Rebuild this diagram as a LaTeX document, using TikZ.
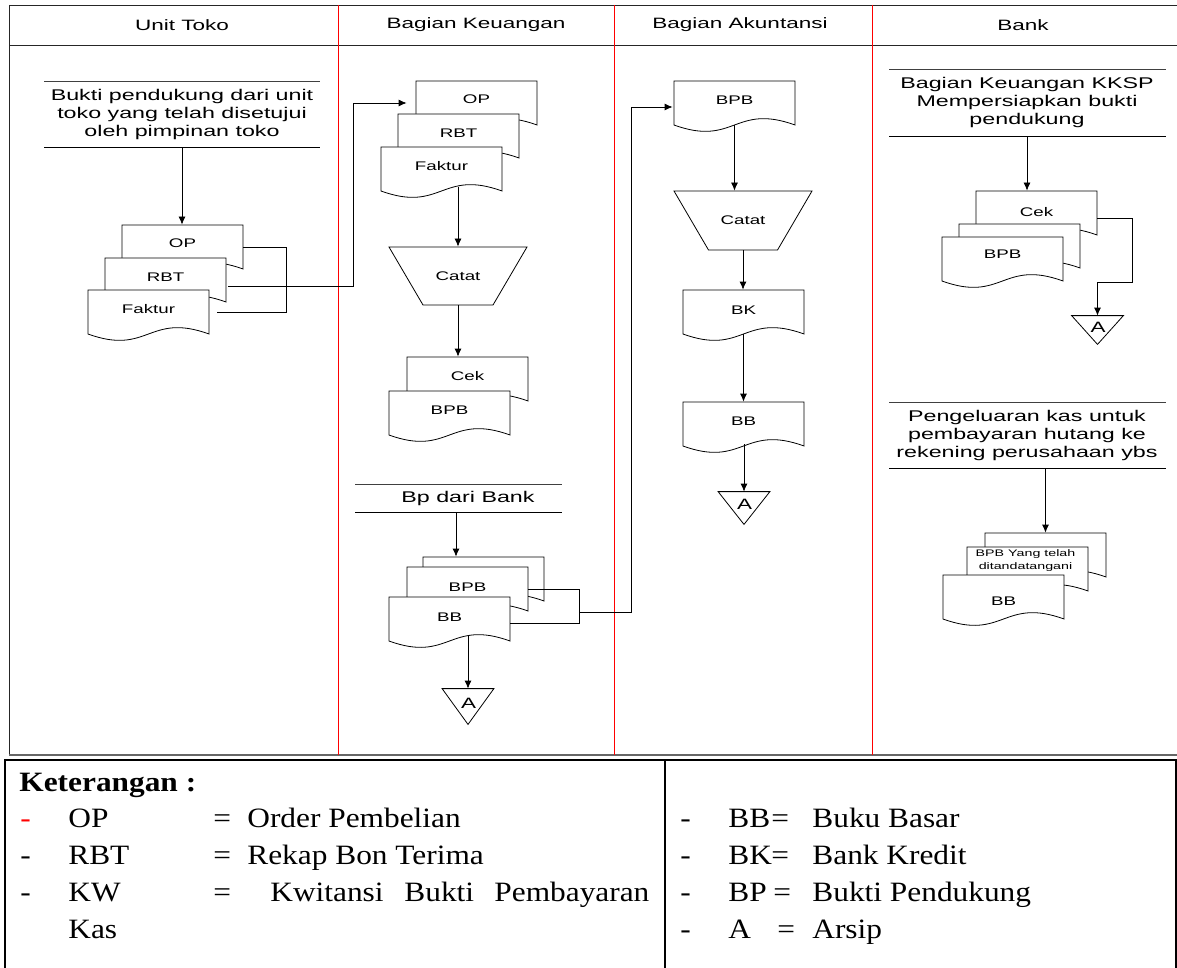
\documentclass[tikz,border=0pt]{standalone}
\usepackage{fontspec}
\usetikzlibrary{arrows.meta,calc}
\newfontfamily\afam[FakeStretch=1.5]{Liberation Sans}
\newfontfamily\tfam[FakeStretch=1.12]{Liberation Serif}
\newcommand\fLab{\afam\fontsize{12.5}{14}\selectfont}
\newcommand\fHd{\afam\fontsize{15}{17}\selectfont}
\newcommand\fBl{\afam\fontsize{15.5}{18}\selectfont}
\newcommand\fSm{\afam\fontsize{9.5}{13}\selectfont}
\newcommand\fA{\afam\fontsize{15}{16}\selectfont}
\newcommand\fLg{\tfam\fontsize{28}{30}\selectfont}
% document shape: name, x, y (top-left), label, text offset below top
\newcommand\docat[5]{%
  \draw[docline] (#2,#3) -- (#2+121,#3) -- (#2+121,#3+44)
    .. controls (#2+60.5,#3+22) and (#2+60.5,#3+66) .. (#2,#3+44) -- cycle;
  \node[docnode] (#1) at (#2+60.5,#3+22) {};
  \node[doctext] (#1t) at (#2+60.5,#3+#5) {#4};
}
% archive triangle: name, cx, ytop, h
\newcommand\arsip[4]{%
  \node[inner sep=0pt, minimum width=51pt, minimum height=#4pt] (#1) at (#2,#3+#4/2) {};
  \draw (#1.north west) -- (#1.north east) -- (#1.south) -- cycle;
  \node[inner sep=0pt, font=\fA] (#1t) at (#2+0.5,#3+0.4*#4) {A};
}
% manual operation trapezoid: name, cx, ytop, topw, botw, h, label
\newcommand\trap[7]{%
  \draw (#2-#4/2,#3) -- (#2+#4/2,#3) -- (#2+#5/2,#3+#6) -- (#2-#5/2,#3+#6) -- cycle;
  \node[inner sep=0pt, minimum width=#4pt, minimum height=#6pt, font=\fLab] (#1) at (#2,#3+#6/2) {#7};
}
% text block with rules: name, x1, x2, ytop, ybot, text cx, text
\newcommand\blk[7]{%
  \draw[draw=black!75] (#2,#4) -- (#3,#4);
  \draw (#2,#5) -- (#3,#5);
  \node[inner sep=0pt, minimum height=#5pt-#4pt, align=center, font=\fBl] (#1) at (#6,#4/2+#5/2) {#7};
}
\begin{document}
\begin{tikzpicture}[x=1pt,y=-1pt, line width=0.8pt,
  docline/.style={draw=black, fill=white, line width=0.8pt},
  docnode/.style={inner sep=0pt, minimum width=121pt, minimum height=44pt},
  doctext/.style={inner sep=0pt, font=\fLab, align=center},
  arr/.style={-{Latex[length=8pt,width=7pt]}, line width=0.8pt},
  conn/.style={line width=0.8pt},
  lg/.style={anchor=base west, inner sep=0pt, font=\fLg},
  hd/.style={inner sep=0pt, font=\fHd}]
\useasboundingbox (0,0) rectangle (1177,968);
\fill[white] (0,0) rectangle (1177,968);

% ---------- frame ----------
\draw[black!85] (9,5) -- (1177,5);
\draw[black!85] (9,45) -- (1177,45);
\draw[black!85] (9,5) -- (9,755);
\draw[black!60, line width=1.5pt] (9,755) -- (1177,755);
\draw[red, line width=1pt] (338,5) -- (338,755);
\draw[red, line width=1pt] (614,5) -- (614,755);
\draw[red, line width=1pt] (872,5) -- (872,755);

\node[hd] (hd1) at (182,25) {Unit Toko};
\node[hd] (hd2) at (476,25) {Bagian Keuangan};
\node[hd] (hd3) at (740,25) {Bagian Akuntansi};
\node[hd] (hd4) at (1023,25) {Bank};

% ---------- Unit Toko ----------
\blk{utblk}{44}{320}{81}{147}{182}{Bukti pendukung dari unit\\toko yang telah disetujui\\oleh pimpinan toko}
\docat{utop}{122}{225}{OP}{18}
\docat{utrbt}{105}{258}{RBT}{19}
\docat{utfak}{88}{290}{Faktur}{19}
\draw[arr] (utblk.south) -- (utblk.south |- utop.north);
\draw[conn] (utop.east) -- ++(43,0) |- ($(utfak.east)+(8,0)$);

% ---------- Bagian Keuangan ----------
\docat{kop}{416}{81}{OP}{18}
\docat{krbt}{398}{114}{RBT}{19}
\docat{kfak}{381}{147}{Faktur}{19}
\trap{kcatat}{458}{247}{138}{70}{58}{Catat}
\docat{kcek}{407}{357}{Cek}{19}
\docat{kbpb}{389}{391}{BPB}{19}
\blk{kbp}{355}{562}{484}{512}{468}{Bp dari Bank}
\docat{kback}{423}{557}{}{19}
\docat{kbpbb}{407}{567}{BPB}{20}
\docat{kbb}{389}{597}{BB}{20}
\arsip{ka}{468}{689}{35}

\draw[arr] ($(utrbt.east)+(2,6)$) -| ($(kop.west)+(-62,0)$) -- ($(kop.west)+(-9,0)$);
\draw[arr] ($(kcatat.north |- kfak.south)+(0,-4)$) -- (kcatat.north);
\draw[arr] (kcatat.south) -- (kcatat.south |- kcek.north);
\draw[arr] (kbp.south -| 456,0) -- (456,0 |- kback.north);
\draw[conn] (kbpbb.east) -- ++(51,0) |- ($(kbb.east)+(0,4)$);
\draw[arr] ($(ka.north |- kbb.south)+(0,-5)$) -- (ka.north);

% ---------- Bagian Akuntansi ----------
\docat{abpb}{674}{81}{BPB}{19}
\trap{acatat}{743}{191}{138}{69}{59}{Catat}
\docat{abk}{683}{290}{BK}{20}
\docat{abb}{683}{402}{BB}{19}
\arsip{aa}{744}{492}{32}
\draw[arr] ($(kbpbb.east)+(51,23)$) -| ($(abpb.west)+(-42,4)$) -- ($(abpb.west)+(-1,4)$);
\draw[arr] (abpb.south) -- (abpb.south |- acatat.north);
\draw[arr] (acatat.south) -- (acatat.south |- abk.north);
\draw[arr] (abk.south) -- (abk.south |- abb.north);
\draw[arr] ($(aa.north |- abb.south)+(0,-2)$) -- (aa.north);

% ---------- Bank ----------
\blk{bblka}{889}{1166}{69}{136}{1027}{Bagian Keuangan KKSP\\Mempersiapkan bukti\\pendukung}
\docat{bcek}{976}{191}{Cek}{21}
\docat{bmid}{959}{224}{}{19}
\docat{bbpb}{942}{237}{BPB}{17}
\arsip{ba}{1097.5}{316}{28}
\draw[arr] (bblka.south) -- (bblka.south |- bcek.north);
\draw[arr] ($(bcek.east)+(0,5)$) -- ++(35,0) |- ($(ba.north)+(0,-33)$) -- (ba.north);

\blk{bblkb}{889}{1166}{402}{468}{1027}{Pengeluaran kas untuk\\pembayaran hutang ke\\rekening perusahaan ybs}
\docat{bback}{985}{533}{}{19}
\docat{bttd}{967}{547}{}{19}
\docat{bbb}{943}{575}{BB}{26}
\node[inner sep=0pt, font=\fSm, align=center] (bttdlab) at ($(bttd.north)+(-2,14)$) {BPB Yang telah\\ditandatangani};
\draw[arr] (bback.north |- bblkb.south) -- (bback.north);

% ---------- Legend ----------
\draw[line width=2pt] (1176,968) -- (1176,760) -- (5,760) -- (5,968);
\draw[line width=2pt] (665,760) -- (665,968);

\node[lg] (lket) at (19,791) {\bfseries Keterangan :};
\node[lg, text=red] (ld1) at (20,827) {-};
\node[lg] (lop) at (68,827) {OP};
\node[lg] (le1) at (213,827) {=};
\node[lg] (lop2) at (247,827) {Order Pembelian};
\node[lg] (ld2) at (20,864) {-};
\node[lg] (lrbt) at (68,864) {RBT};
\node[lg] (le2) at (213,864) {=};
\node[lg] (lrbt2) at (247,864) {Rekap Bon Terima};
\node[lg] (ld3) at (20,901) {-};
\node[lg] (lkw) at (68,901) {KW};
\node[lg] (le3) at (213,901) {=};
\node[lg] (lkw1) at (270,901) {Kwitansi};
\node[lg] (lkw2) at (404,901) {Bukti};
\node[lg] (lkw3) at (494,901) {Pembayaran};
\node[lg] (lkas) at (68,938) {Kas};

\node[lg] (rd1) at (680,827) {-};
\node[lg] (rbb) at (728,827) {BB};
\node[lg] (re1) at (771,827) {=};
\node[lg] (rbb2) at (812,827) {Buku Basar};
\node[lg] (rd2) at (680,864) {-};
\node[lg] (rbk) at (728,864) {BK};
\node[lg] (re2) at (771,864) {=};
\node[lg] (rbk2) at (812,864) {Bank Kredit};
\node[lg] (rd3) at (680,901) {-};
\node[lg] (rbp) at (728,901) {BP};
\node[lg] (re3) at (773,901) {=};
\node[lg] (rbp2) at (812,901) {Bukti Pendukung};
\node[lg] (rd4) at (680,938) {-};
\node[lg] (ra) at (728,938) {A};
\node[lg] (re4) at (777,938) {=};
\node[lg] (ra2) at (812,938) {Arsip};
\end{tikzpicture}
\end{document}
